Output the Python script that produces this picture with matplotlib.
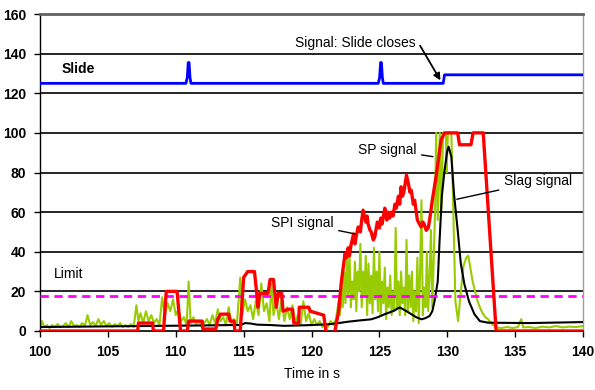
import numpy as np
import matplotlib
matplotlib.use("Agg")
import matplotlib.pyplot as plt

plt.rcParams['font.family'] = ['Liberation Sans', 'DejaVu Sans']

# SP signal (green), time in s / value
sp_t = [100.0, 100.15, 100.3, 100.5, 100.7, 100.9, 101.1, 101.3, 101.5, 101.7, 101.9, 102.1, 102.3, 102.5,
        102.7, 102.9, 103.1, 103.3, 103.5, 103.7, 103.9, 104.1, 104.3, 104.5, 104.7, 104.9, 105.1, 105.3,
        105.5, 105.7, 105.9, 106.1, 106.3, 106.5, 106.7, 106.9, 107.1, 107.25, 107.4, 107.6, 107.8, 108.0,
        108.2, 108.4, 108.6, 108.8, 109.0, 109.2, 109.4, 109.6, 109.8, 110.0, 110.2, 110.4, 110.6, 110.8,
        110.95, 111.1, 111.3, 111.5, 111.7, 111.9, 112.1, 112.3, 112.5, 112.7, 112.9, 113.1, 113.3, 113.5,
        113.7, 113.9, 114.1, 114.3, 114.5, 114.75, 114.9, 115.1, 115.3, 115.5, 115.7, 115.9, 116.1, 116.3,
        116.5, 116.7, 116.9, 117.05, 117.2, 117.4, 117.6, 117.8, 118.0, 118.2, 118.4, 118.6, 118.8, 119.0,
        119.2, 119.4, 119.6, 119.8, 120.0, 120.2, 120.4, 120.6, 120.8, 121.0, 121.2, 121.4, 121.6, 121.8,
        122.0, 122.1, 122.2, 122.3, 122.4, 122.5, 122.6, 122.7, 122.8, 122.9, 123.0, 123.1, 123.2, 123.3,
        123.4, 123.5, 123.6, 123.7, 123.8, 123.9, 124.0, 124.1, 124.2, 124.3, 124.4, 124.5, 124.6, 124.7,
        124.8, 124.9, 125.0, 125.1, 125.2, 125.3, 125.4, 125.5, 125.6, 125.7, 125.8, 125.9, 126.0, 126.1,
        126.2, 126.3, 126.4, 126.5, 126.6, 126.7, 126.8, 126.9, 127.0, 127.1, 127.2, 127.3, 127.4, 127.5,
        127.6, 127.7, 127.8, 127.9, 128.0, 128.1, 128.2, 128.3, 128.4, 128.5, 128.6, 128.7, 128.8, 128.9,
        129.0, 129.1, 129.18, 129.3, 129.45, 129.55, 129.7, 129.9, 129.95, 130.05, 130.3, 130.45, 130.6,
        130.8, 131.0, 131.2, 131.4, 131.55, 131.7, 131.87, 132.05, 132.24, 132.4, 132.6, 132.8, 133.0,
        133.3, 133.6, 134.0, 134.4, 134.8, 135.2, 135.45, 135.6, 136.0, 136.5, 137.0, 137.5, 138.0,
        138.5, 139.0, 139.5, 140.0]
sp_v = [2, 5, 2, 3, 1.5, 3, 2, 3.5, 2, 2.5, 4, 2, 5, 2.5,
        3, 2, 4, 2.5, 8, 3, 4.5, 2.5, 6, 3, 5, 2.5, 4, 2,
        3.5, 2.5, 4, 2, 3, 2, 3.5, 2, 13, 5, 9, 4, 10, 5,
        8, 4, 6, 3, 17, 8, 14, 10, 16, 8, 11, 5, 7, 3,
        25, 4, 7, 3, 5, 2, 4, 6, 3, 8, 4, 11, 5, 7,
        3, 12, 4, 6, 3, 27, 8, 16, 10, 13, 6, 15, 8, 24,
        10, 14, 5, 24, 8, 15, 6, 17, 5, 12, 6, 13, 4, 8,
        3, 15, 5, 9, 3, 6, 3, 5, 2, 4, 2, 5, 3, 6,
        15, 8, 22, 12, 30, 14, 36, 18, 40, 12, 25, 16, 35, 10,
        30, 20, 44, 12, 30, 18, 38, 8, 34, 14, 28, 9, 42, 16,
        30, 10, 40, 8, 25, 14, 32, 6, 22, 12, 28, 8, 20, 10,
        52, 12, 25, 8, 30, 14, 22, 8, 46, 10, 28, 12, 30, 5,
        20, 10, 37, 4, 30, 66, 8, 22, 12, 40, 10, 28, 51, 12,
        35, 60, 100, 56, 100, 60, 100, 100, 80, 100, 100, 60, 15,
        5, 20, 33, 37, 38, 32, 25, 20, 15, 12, 9, 7, 6,
        3.4, 1.8, 1.5, 2, 1.5, 2, 6, 1.8, 2, 1.5, 2.2, 1.8, 2.5,
        1.8, 2.2, 2, 2.5]

# SPI signal (red)
spi_t = [100, 107.2, 107.25, 108.3, 108.35, 109.1, 109.3, 110.1, 110.35, 110.85, 110.95, 111.95, 112.0,
         112.95, 113.1, 113.3, 113.9, 114.0, 114.3, 114.35, 114.75, 115.0, 115.3, 115.8, 115.95, 116.05,
         116.2, 116.8, 116.95, 117.2, 117.4, 117.55, 117.8, 117.9, 118.3, 118.6, 118.7, 119.05, 119.1,
         119.8, 119.9, 120.9, 121.0, 121.1, 121.7, 122.0, 122.2, 122.47, 122.6, 122.7, 122.8, 122.9,
         123.1, 123.2, 123.3, 123.44, 123.6, 123.7, 123.8, 124.0, 124.1, 124.17, 124.3, 124.4, 124.55,
         124.66, 124.85, 125.0, 125.1, 125.2, 125.3, 125.4, 125.55, 125.65, 125.76, 125.9, 126.0, 126.15,
         126.25, 126.4, 126.5, 126.6, 126.7, 126.8, 127.0, 127.15, 127.25, 127.35, 127.5, 127.6, 127.8,
         127.95, 128.08, 128.2, 128.3, 128.45, 128.6, 128.7, 128.9, 129.2, 129.55, 129.8, 130.77, 130.9,
         131.75, 131.9, 132.65, 133.6, 140]
spi_v = [0, 0, 4, 4, 0, 0, 20, 20, 0, 0, 5, 5, 1,
         1, 6, 8.5, 8.5, 5, 5, 0, 0, 27, 30, 30, 20, 12,
         19, 19, 26, 26, 12, 19, 19, 10, 11, 11, 4, 4, 12,
         12, 10, 8, 3, -1, -1, 10, 25, 39, 37, 42, 38, 43,
         49, 44, 48, 52.5, 50, 56, 61, 55, 58, 54, 51, 50, 46,
         47.4, 55, 52, 57, 54, 58, 62, 56, 60, 57, 60, 58, 64,
         62, 68, 64, 72.8, 68, 70, 78.7, 74, 70, 71, 64, 66, 56,
         54, 52.5, 55, 54, 50.8, 52, 56, 66, 79, 96.5, 100, 100, 94,
         94, 100, 100, 0, 0]

# Slag signal (black)
slag_t = [100, 103, 106, 109, 112, 114, 114.8, 115.1, 115.5, 116, 117, 118, 119, 120, 121.25, 122,
          122.7, 123.5, 124.4, 124.9, 125.4, 126, 126.5, 127, 127.35, 127.7, 128.1, 128.4, 128.7, 128.9,
          129.06, 129.3, 129.43, 129.6, 129.8, 130.0, 130.1, 130.3, 130.5, 130.77, 131.0, 131.26, 131.6,
          132.0, 132.4, 133.0, 136, 140]
slag_v = [2, 2.2, 2.4, 2.6, 2.8, 3, 3, 4, 3.8, 3.2, 3, 2.6, 2.8, 3, 3.4, 4,
          4.7, 5.3, 5.9, 7, 8.5, 10, 11.9, 10, 8.5, 7, 5.9, 6.5, 7.6, 10,
          15, 25, 45, 68, 81, 91, 93, 88, 69, 50.8, 34, 23.7, 15,
          8.5, 5, 4.2, 4, 4.5]

# Slide position (blue)
slide_t = [100, 110.75, 110.85, 110.92, 110.98, 111.05, 111.12, 124.92, 125.02, 125.09, 125.15, 125.22,
           125.29, 129.7, 129.8, 140]
slide_v = [125, 125, 128, 135.5, 135.5, 128, 125, 125, 128, 135.5, 135.5, 128,
           125, 125, 129.3, 129.3]

limit = 17.8
x_ticks = [100, 105, 110, 115, 120, 125, 130, 135, 140]
y_ticks = [0, 20, 40, 60, 80, 100, 120, 140, 160]

fig = plt.figure(figsize=(5.95, 3.9), dpi=100)
ax = fig.add_axes([40/595, 1 - 331/390, 543/595, (331-14)/390])

for yv in y_ticks[1:-1]:
    ax.axhline(yv, color='black', lw=1.2, zorder=1)

ax.plot(sp_t, sp_v, color='#99CC00', lw=1.5, zorder=2)
ax.plot(slag_t, slag_v, color='black', lw=1.5, zorder=3)
ax.axhline(limit, color='#FF00FF', lw=2, ls=(0, (3, 2)), zorder=3.5)
ax.plot(spi_t, spi_v, color='#FF0000', lw=2.4, zorder=4)
ax.plot(slide_t, slide_v, color='#0000FF', lw=2, zorder=4)

ax.set_xlim(100, 140)
ax.set_ylim(0, 160)
ax.set_xticks(x_ticks)
ax.set_xticklabels([str(v) for v in x_ticks], fontweight='bold', fontsize=10)
ax.set_yticks(y_ticks)
ax.set_yticklabels([str(v) for v in y_ticks], fontweight='bold', fontsize=10)
ax.tick_params(direction='out', length=4, width=1, pad=6)
ax.set_xlabel('Time in s', fontsize=10, labelpad=6)

ax.spines['top'].set_color('#606060')
ax.spines['top'].set_linewidth(2)
ax.spines['right'].set_color('#A0A0A0')
ax.spines['right'].set_linewidth(1)
ax.spines['left'].set_linewidth(1)
ax.spines['bottom'].set_linewidth(1.2)

ax.text(101.6, 132, 'Slide', fontsize=10, fontweight='bold', va='center', zorder=6)
ax.text(101.0, 29, 'Limit', fontsize=10, va='center', zorder=6)
ax.text(123.2, 145.5, 'Signal: Slide closes', fontsize=10, ha='center', va='center', zorder=6,
        bbox=dict(boxstyle='square,pad=0.15', fc='white', ec='none'))
ax.annotate('', xy=(129.5, 126.5), xytext=(128.0, 144),
            arrowprops=dict(arrowstyle='-|>', color='black', lw=1.3, shrinkA=0, shrinkB=0,
                            mutation_scale=10), zorder=6)
ax.annotate('SP signal', xy=(128.95, 88), xytext=(127.7, 91.5), fontsize=10, ha='right',
            va='center', zorder=6,
            arrowprops=dict(arrowstyle='-', color='black', lw=1, shrinkA=2, shrinkB=0))
ax.annotate('Slag signal', xy=(130.7, 66.5), xytext=(134.2, 75.5), fontsize=10, ha='left',
            va='center', zorder=6,
            arrowprops=dict(arrowstyle='-', color='black', lw=1, shrinkA=2, shrinkB=0))
ax.annotate('SPI signal', xy=(123.2, 49), xytext=(121.6, 54.5), fontsize=10, ha='right',
            va='center', zorder=6,
            arrowprops=dict(arrowstyle='-', color='black', lw=1, shrinkA=2, shrinkB=0))

fig.savefig('out.png', dpi=100)
